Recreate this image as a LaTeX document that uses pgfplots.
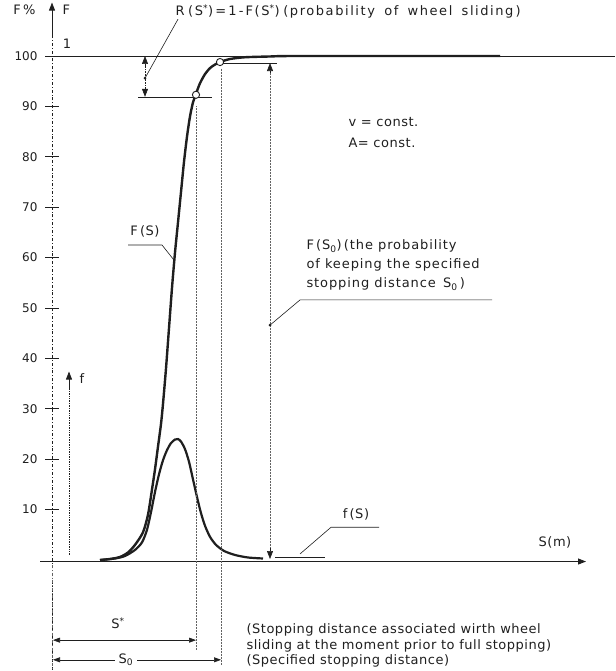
\documentclass[border=0pt]{standalone}
\usepackage{fontspec}
\setmainfont{DejaVu Sans}
\usepackage{pgfplots}
\pgfplotsset{compat=1.18}
\usetikzlibrary{arrows.meta}
\definecolor{ink}{gray}{0.12}
\begin{document}
\begin{tikzpicture}[
  every node/.style={font=\fontsize{13}{15}\selectfont\addfontfeature{LetterSpace=4}, text=ink},
  tick/.style={font=\fontsize{12}{14}\selectfont},
  tip/.style={-{Triangle[length=8pt,width=6pt]}},
  ln/.style={ink, line width=0.6pt},
]
\begin{axis}[scale only axis, width=615pt, height=671pt,
  xmin=0, xmax=615, ymin=-22.02, ymax=111.11,
  hide axis, clip=false]
\path (0,-22.02) rectangle (615,111.11);
% F(S) cumulative curve
\addplot[ink, line width=2.4pt, smooth, tension=0.45] coordinates {
 (100,0) (110,0.2) (120,0.6) (128,1.5) (135,3) (143,5.5) (148,9) (152,14)
 (155,18) (158,22.5) (161,27) (163,31) (166,38) (169,46) (172,54) (175,61)
 (178,67) (181,73) (184,79) (187,84) (190,88) (193,90.8) (196,92.5)
 (200,94.6) (205,96.4) (210,97.6) (215,98.3) (220,98.8) (230,99.4)
 (245,99.75) (270,99.9) (300,100) (500,100)};
% f(S) density curve
\addplot[ink, line width=2.2pt, smooth, tension=0.45] coordinates {
 (100,0) (115,0.3) (125,0.8) (135,2) (142,3.5) (147,6) (151,9.5) (155,13.5)
 (159,17) (163,19.8) (167,21.8) (171,23.2) (175,23.9) (178,24) (181,23.5)
 (185,22) (189,19.5) (193,16) (197,12.5) (201,9.3) (205,6.8) (210,4.6)
 (216,3) (224,1.8) (235,1) (248,0.5) (263,0.3)};
\addplot[ink, line width=1.8pt] coordinates {(275,0.5) (325,0.5)};
% points S*, S0
\addplot[only marks, mark=*, mark size=3.6pt, mark options={fill=white, draw=ink, line width=0.9pt}]
 coordinates {(196,92.3) (220,98.8)};
% line F = 100 (1)
\draw[ink, line width=0.9pt] (52,100) -- (615,100);
\node at (67,102.4) {1};
% y axis
\draw[ink, line width=0.8pt, dash dot] (52,-21.8) -- (52,106);
\draw[ink, line width=0.8pt, tip] (52,104) -- (52,110.6);
\node[anchor=east] at (39,109.2) {F\,\%};
\node[anchor=west] at (59,109.2) {F};
\pgfplotsinvokeforeach{10,20,30,40,50,60,70,80,90,100}{
  \draw[ink, line width=0.8pt] (45,#1) -- (59,#1);
  \node[anchor=east, tick] at (41,#1) {#1};
}
% x axis
\draw[ink, line width=0.9pt, tip] (40,-0.3) -- (586,-0.3);
\node at (555,3.5) {S(m)};
% f axis
\draw[ink, line width=0.7pt, densely dotted] (69,1) -- (69,35);
\draw[ink, line width=0.7pt, tip] (69,34) -- (69,37.4);
\node at (82,36) {f};
% R(S*) dimension
\draw[ln] (138,91.9) -- (212,91.9);
\draw[ln] (220,98.6) -- (277,98.6);
\draw[ln, densely dotted] (145,93.5) -- (145,98.5);
\draw[ln, tip] (145,98.0) -- (145,100);
\draw[ln, tip] (145,93.8) -- (145,91.9);
\fill[ink] (145,95.6) circle (1.5pt);
\draw[ln] (145,95.6) -- (178,107.3);
\node[anchor=west, font=\fontsize{13}{15}\selectfont\addfontfeature{LetterSpace=12}] at (172,108.8) {R\;(S\textsuperscript{*})\,=\,1\,-\,F(S\textsuperscript{*})\;(probability\; of\; wheel\; sliding\,)};
% vertical dotted lines
\draw[ink!70, line width=0.5pt, densely dotted] (196,90) -- (196,-17.9);
\draw[ink!70, line width=0.5pt, densely dotted] (221,97.5) -- (221,-20.8);
\draw[ink!70, line width=0.5pt, densely dotted] (270,97) -- (270,2);
\draw[ln, tip] (270,96.6) -- (270,98.6);
\draw[ln, tip] (270,2.3) -- (270,0.2);
% F(S0) annotation
\fill[ink] (270,46.6) circle (1.5pt);
\draw[ln] (270,46.6) -- (300,51.6) -- (492,51.6);
\node[anchor=west, font=\fontsize{13}{15}\selectfont\addfontfeature{LetterSpace=7}] at (303,62.3) {F\,(S\textsubscript{0})\,(the probability};
\node[anchor=west, font=\fontsize{13}{15}\selectfont\addfontfeature{LetterSpace=7}] at (303,58.5) {of keeping the specified};
\node[anchor=west, font=\fontsize{13}{15}\selectfont\addfontfeature{LetterSpace=7}] at (303,54.7) {stopping distance\, S\textsubscript{0}\,)};
% v, A const
\node[anchor=west] at (345,86.9) {v = const.};
\node[anchor=west] at (345,82.7) {A= const.};
% F(S) label
\node at (145,65.2) {F\,(S)};
\draw[ln] (128,62.5) -- (162,62.5) -- (174,59.5);
% f(S) label
\node at (356,9.0) {f\,(S)};
\draw[ln] (379,6.5) -- (331,6.5) -- (300,1.2);
% bottom dimensions
\draw[ink!70, line width=0.5pt, dash dot] (52,-1) -- (52,-21.8);
\draw[ln, {Triangle[length=7pt,width=5pt]}-{Triangle[length=7pt,width=5pt]}] (53,-15.9) -- (196,-15.9);
\node at (118,-12.6) {S\textsuperscript{*}};
\draw[ln, {Triangle[length=7pt,width=5pt]}-{Triangle[length=7pt,width=5pt]}] (53,-19.8) -- (221,-19.8);
\node[fill=white, inner xsep=4pt, inner ysep=1pt] at (126,-19.8) {S\textsubscript{0}};
\node[anchor=west] at (243,-13.9) {(Stopping distance associated wirth wheel};
\node[anchor=west] at (243,-17.1) {sliding at the moment prior to full stopping)};
\node[anchor=west] at (243,-20.0) {(Specified stopping distance)};
\end{axis}
\end{tikzpicture}
\end{document}
